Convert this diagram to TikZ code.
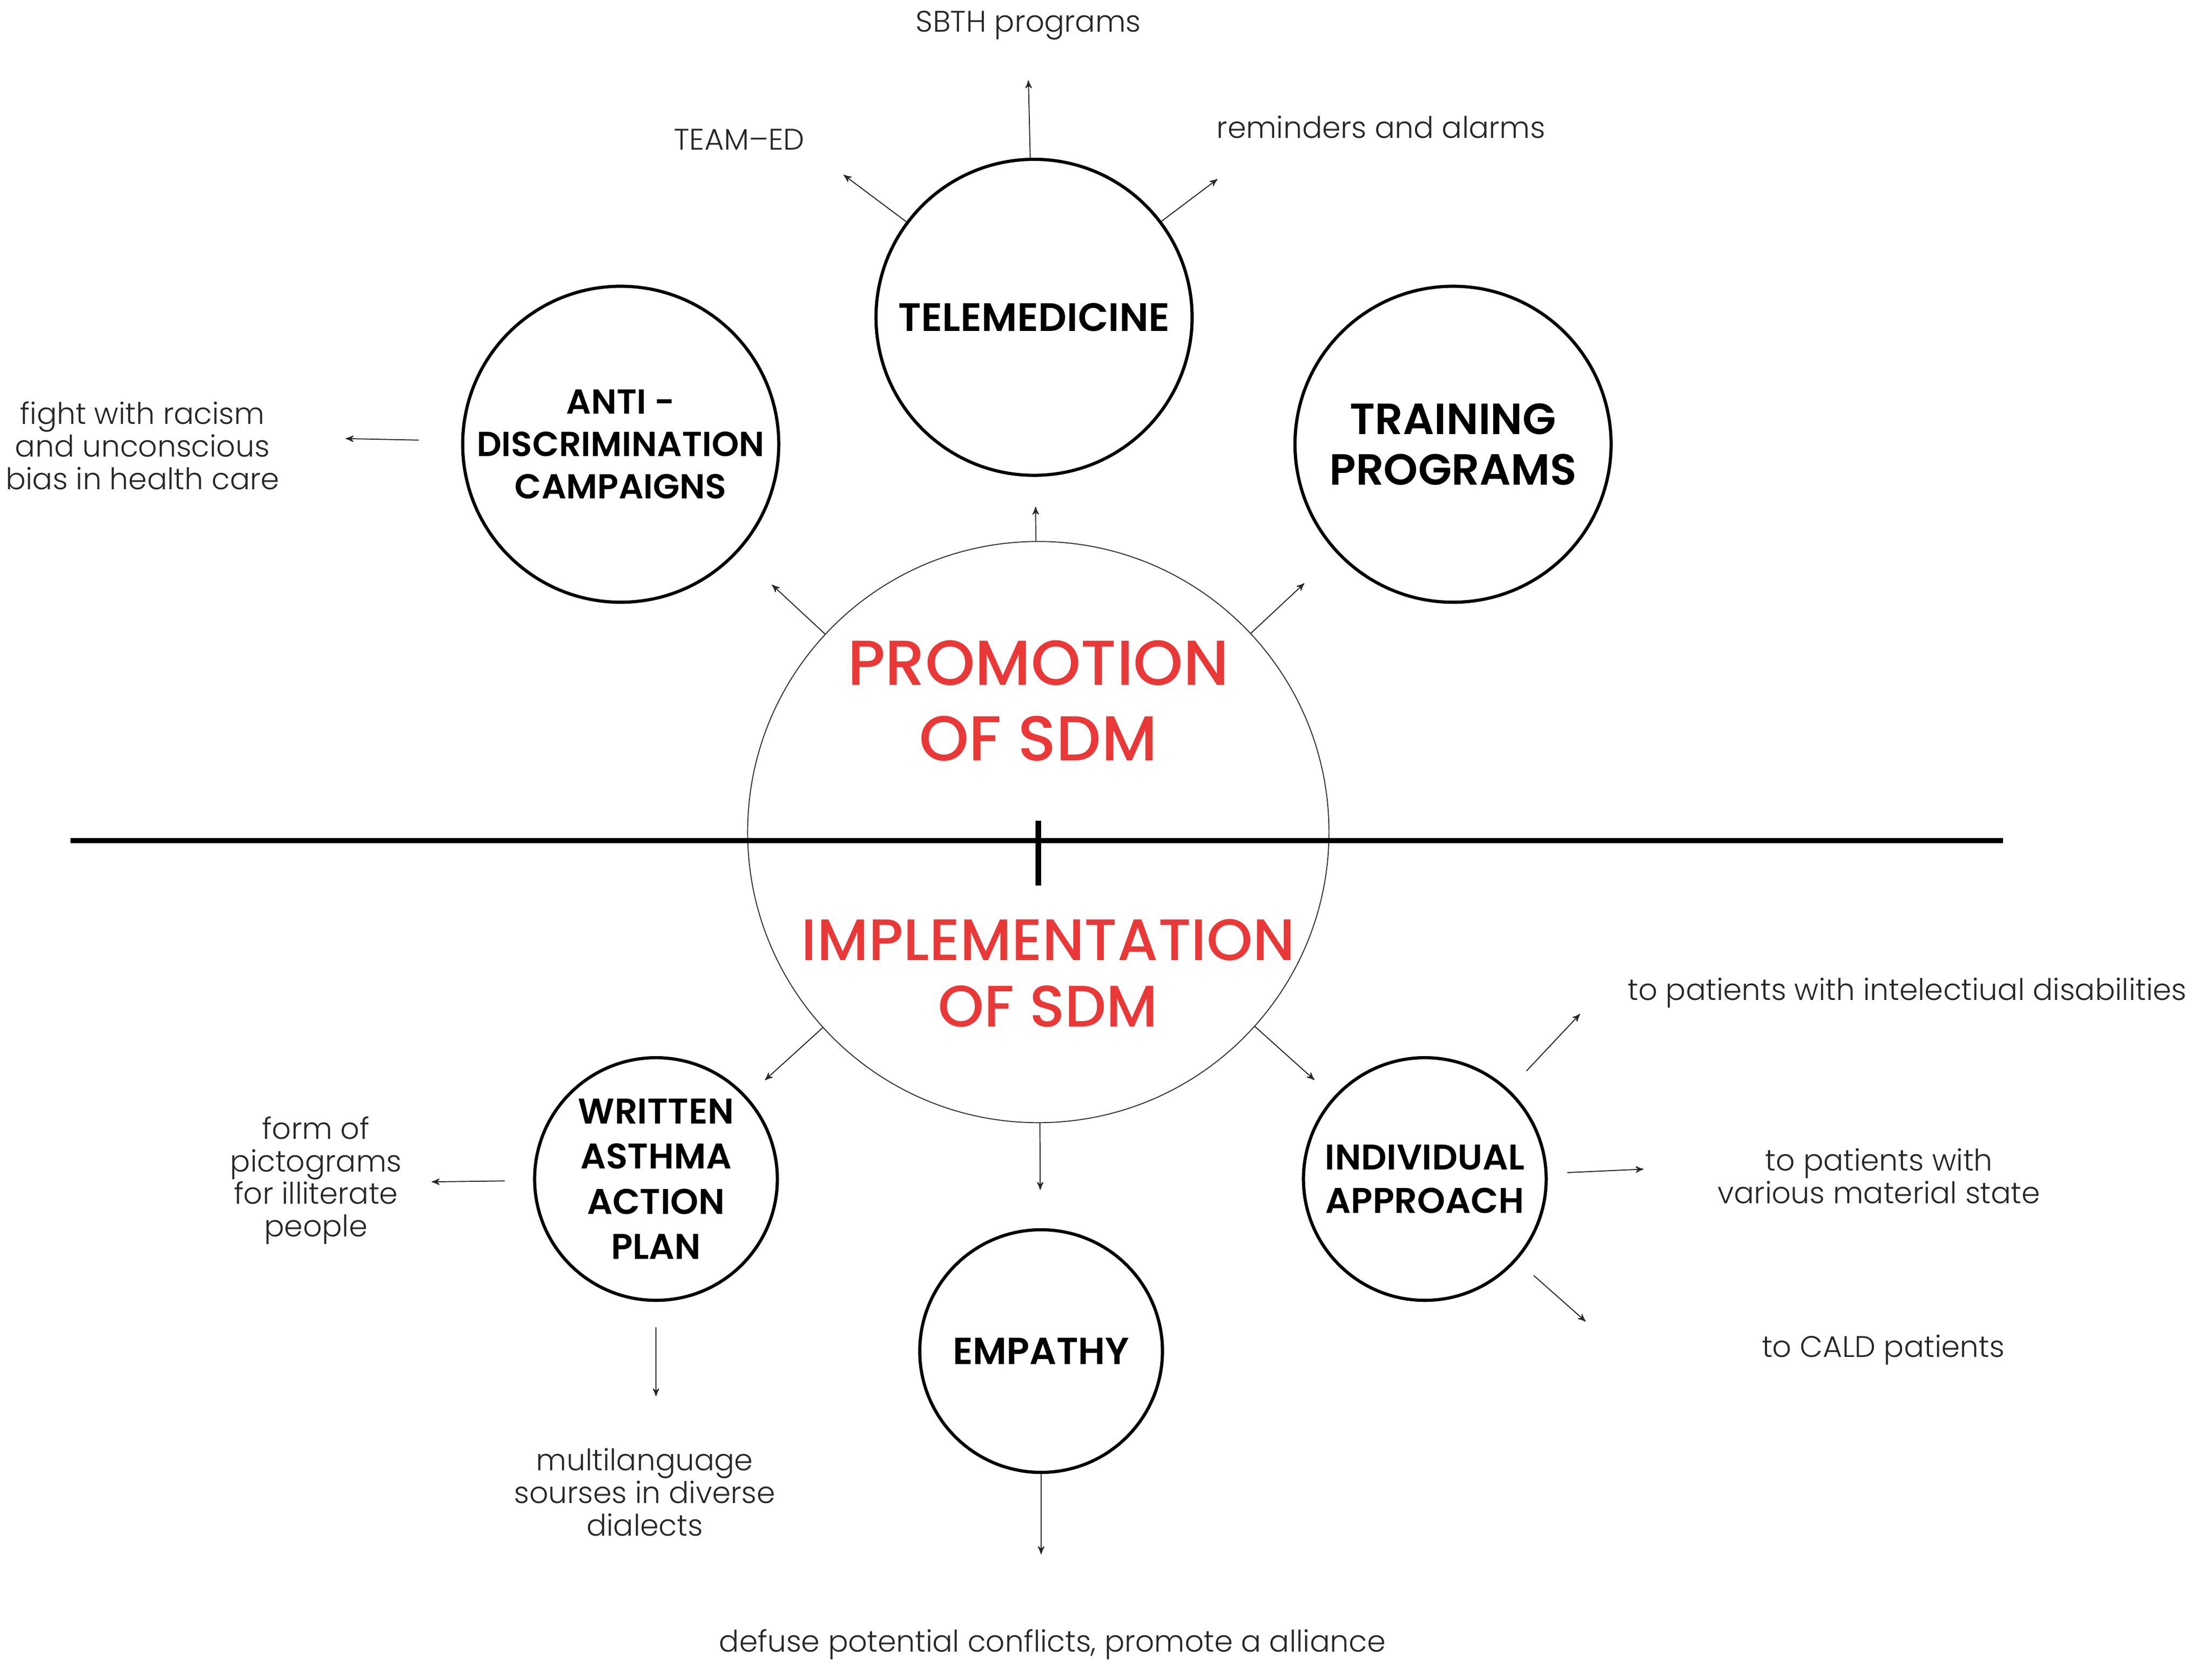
\documentclass[tikz,border=0pt]{standalone}
\usepackage{fontspec}
\setmainfont{Poppins}
\newfontfamily\lightf{Poppins Light}
\newfontfamily\semif{Poppins SemiBold}
\newfontfamily\medf{Poppins Medium}
\usetikzlibrary{arrows}
\definecolor{sdmred}{RGB}{233,56,56}

\begin{document}
\begin{tikzpicture}[x=0.025cm, y=-0.025cm]
						\tikzstyle{hub}=[circle, draw=black!80, line width=.5pt, minimum size=10.3cm]
						\tikzstyle{bigtopic}=[circle, draw=black, line width=1.6pt, minimum size=5.6cm, inner sep=0pt, align=center]
						\tikzstyle{smalltopic}=[circle, draw=black, line width=1.6pt, minimum size=4.3cm, inner sep=0pt, align=center]
						\tikzstyle{sdmtitle}=[text=sdmred, align=center]
						\tikzstyle{note}=[align=center, text=black!85, font=\lightf\fontsize{15}{16.4}\selectfont]
						\tikzstyle{arr}=[->, >=stealth', line width=.5pt, black!85]
						\useasboundingbox (0,0) rectangle (1568,1184);
						\path (736,590) node[hub] (sdm) {};
						\path (736,497) node[sdmtitle, font=\medf\fontsize{32}{38}\selectfont] (promo) {PROMOTION\\OF SDM};
						\path (743,690) node[sdmtitle, font=\medf\fontsize{29.5}{33.4}\selectfont] (implem) {IMPLEMENTATION\\OF SDM};
						\path (733,225) node[bigtopic, font=\semif\fontsize{20}{23}\selectfont] (tele) {TELEMEDICINE};
						\path (440,315) node[bigtopic, font=\semif\fontsize{17.5}{21.3}\selectfont] (anti) {ANTI -\\DISCRIMINATION\\CAMPAIGNS};
						\path (1030,315) node[bigtopic, font=\semif\fontsize{22}{25.6}\selectfont] (train) {TRAINING\\PROGRAMS};
						\path (465,836) node[smalltopic, font=\semif\fontsize{18}{22.8}\selectfont] (written) {WRITTEN\\ASTHMA\\ACTION\\PLAN};
						\path (738,958) node[smalltopic, font=\semif\fontsize{19}{22}\selectfont] (empathy) {EMPATHY};
						\path (1010,836) node[smalltopic, font=\semif\fontsize{18}{22}\selectfont] (indiv) {INDIVIDUAL\\APPROACH};
						\path (729,18) node[note] (sbth) {SBTH programs};
						\path (524,99) node[note] (teamed) {TEAM–ED};
						\path (979,90) node[note] (remind) {reminders and alarms};
						\path (101,316) node[note] (fight) {fight with racism\\and unconscious\\bias in health care};
						\path (224,837) node[note] (form) {form of\\pictograms\\for illiterate\\people};
						\path (457,1058) node[note] (multi) {multilanguage\\sourses in diverse\\dialects};
						\path (746,1166) node[note] (defuse) {defuse potential conflicts, promote a alliance};
						\path (1352,704) node[note] (intel) {to patients with intelectiual disabilities};
						\path (1332,834) node[note] (various) {to patients with\\various material state};
						\path (1335,957) node[note] (cald) {to CALD patients};
						\coordinate (sbthtip) at (729,57);
						\coordinate (teamtip) at (598,124);
						\coordinate (remtip) at (863,127);
						\coordinate (fighttip) at (245,311);
						\coordinate (formtip) at (306,838);
						\coordinate (multitip) at (465,990);
						\coordinate (defusetip) at (738,1102);
						\coordinate (inteltip) at (1120,719);
						\coordinate (varioustip) at (1165,829);
						\coordinate (caldtip) at (1124,937);
						\draw[line width=2.6pt] (50,596) -- (1420,596);
						\draw[line width=2.6pt] (736,582) -- (736,628);
						\draw[arr, shorten >=.53cm] (sdm) -- (tele);
						\draw[arr, shorten >=.83cm] (sdm) -- (anti);
						\draw[arr, shorten >=.78cm] (sdm) -- (train);
						\draw[arr, shorten >=.43cm] (sdm) -- (written);
						\draw[arr, shorten >=.68cm] (sdm) -- (empathy);
						\draw[arr, shorten >=.45cm] (sdm) -- (indiv);
						\draw[arr] (tele) -- (sbthtip);
						\draw[arr] (tele) -- (teamtip);
						\draw[arr] (tele) -- (remtip);
						\draw[arr, shorten <=.75cm] (anti) -- (fighttip);
						\draw[arr, shorten <=.5cm] (written) -- (formtip);
						\draw[arr, shorten <=.45cm] (written) -- (multitip);
						\draw[arr] (empathy) -- (defusetip);
						\draw[arr, shorten <=.45cm] (indiv) -- (inteltip);
						\draw[arr, shorten <=.35cm] (indiv) -- (varioustip);
						\draw[arr, shorten <=.4cm] (indiv) -- (caldtip);
\end{tikzpicture}
\end{document}
